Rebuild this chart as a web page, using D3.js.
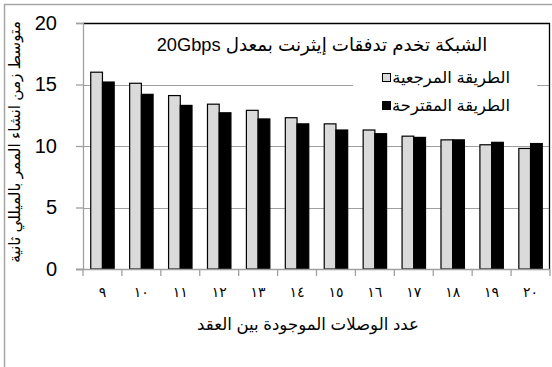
<!DOCTYPE html>
<html>
<head>
<meta charset="utf-8">
<script src="https://cdn.jsdelivr.net/npm/d3@7/dist/d3.min.js"></script>
<style>
  html, body { margin: 0; padding: 0; background: #fff; }
  svg { display: block; }
  text { font-family: "Liberation Sans", "DejaVu Sans", sans-serif; }
</style>
</head>
<body>
<svg id="chart" width="552" height="367"></svg>
<script>
// Number of links between nodes (Arabic-Indic digits as drawn on the axis)
const categories = ["٩", "١٠", "١١", "١٢", "١٣", "١٤", "١٥", "١٦", "١٧", "١٨", "١٩", "٢٠"];
// Mean path set-up time (ms): reference method vs. proposed method
const referenceValues = [16.0, 15.1, 14.1, 13.4, 12.9, 12.3, 11.8, 11.3, 10.8, 10.5, 10.1, 9.8];
const proposedValues  = [15.2, 14.2, 13.3, 12.7, 12.2, 11.8, 11.3, 11.0, 10.7, 10.5, 10.3, 10.2];
const yTicks = [0, 5, 10, 15, 20];
const seriesNames = ["الطريقة المرجعية", "الطريقة المقترحة"];
const seriesColors = ["#dadada", "#000000"];
const chartTitle = "الشبكة تخدم تدفقات إيثرنت بمعدل 20Gbps";
const xTitle = "عدد الوصلات الموجودة بين العقد";
const yTitle = "متوسط زمن انشاء الممر بالميللي ثانية";

const svg = d3.select("#chart");
const plot = { left: 83, right: 550, top: 23, bottom: 269 };

// Outer chart frame (extends past the visible window on the right and bottom)
svg.append("rect")
  .attr("x", 4.5).attr("y", 4.5)
  .attr("width", 600).attr("height", 400)
  .attr("fill", "none").attr("stroke", "#a6a6a6").attr("stroke-width", 1.5);

const x = d3.scaleBand().domain(categories).range([plot.left, plot.right]).padding(0);
const xInner = d3.scaleBand().domain([0, 1]).range([0, x.bandwidth()]).paddingInner(0).paddingOuter(0.66);
const y = d3.scaleLinear().domain([0, 20]).range([plot.bottom, plot.top]);

// Horizontal gridlines
svg.append("g").selectAll("line")
  .data(yTicks.filter(v => v > 0 && v < 20))
  .join("line")
  .attr("x1", plot.left).attr("x2", plot.right)
  .attr("y1", d => Math.round(y(d)) + 0.5).attr("y2", d => Math.round(y(d)) + 0.5)
  .attr("stroke", "#a0a0a0").attr("stroke-width", 1.2);

// Plot area frame: top and right edges
svg.append("path")
  .attr("d", `M${plot.left},${plot.top + 0.5}H${plot.right - 0.5}V${plot.bottom}`)
  .attr("fill", "none").attr("stroke", "#000").attr("stroke-width", 1.3);

// Bars
const rows = categories.map((c, i) => ({ c, vals: [referenceValues[i], proposedValues[i]] }));
const groups = svg.append("g").selectAll("g")
  .data(rows).join("g")
  .attr("transform", d => `translate(${x(d.c)},0)`);
groups.selectAll("rect")
  .data(d => d.vals.map((v, k) => ({ v, k })))
  .join("rect")
  .attr("x", d => xInner(d.k))
  .attr("width", xInner.bandwidth())
  .attr("y", d => y(d.v))
  .attr("height", d => y(0) - y(d.v))
  .attr("fill", d => seriesColors[d.k])
  .attr("stroke", "#000").attr("stroke-width", 1.2);

// Y axis
const yAxis = svg.append("g")
  .attr("transform", `translate(${plot.left},0)`)
  .call(d3.axisLeft(y).tickValues(yTicks).tickSize(7).tickPadding(19));
yAxis.select(".domain").attr("stroke", "#a0a0a0").attr("stroke-width", 1.3);
yAxis.selectAll(".tick line").attr("stroke", "#a0a0a0").attr("stroke-width", 1.3);
yAxis.selectAll(".tick text")
  .attr("font-family", "Lato, 'Open Sans', sans-serif")
  .attr("font-size", 20).attr("fill", "#000");

// X axis line, boundary ticks and labels
const xAxis = svg.append("g");
xAxis.append("line")
  .attr("x1", plot.left - 7).attr("x2", plot.right)
  .attr("y1", plot.bottom + 0.5).attr("y2", plot.bottom + 0.5)
  .attr("stroke", "#a0a0a0").attr("stroke-width", 1.3);
const boundaries = categories.map(c => x(c)).concat([x.range()[1]]);
xAxis.selectAll("line.tick")
  .data(boundaries).join("line").attr("class", "tick")
  .attr("x1", d => d).attr("x2", d => d)
  .attr("y1", plot.bottom).attr("y2", plot.bottom + 7)
  .attr("stroke", "#a0a0a0").attr("stroke-width", 1.3);
xAxis.selectAll("text")
  .data(categories).join("text")
  .attr("x", d => x(d) + x.bandwidth() / 2)
  .attr("y", 297)
  .attr("text-anchor", "middle")
  .attr("font-size", 14)
  .text(d => d);

// Fit a text element to a given width by adjusting its font size
function fitWidth(sel, width) {
  const w = sel.node().getComputedTextLength();
  const fs = parseFloat(sel.attr("font-size"));
  sel.attr("font-size", fs * width / w);
}

// Axis titles
const xt = svg.append("text")
  .attr("x", 308).attr("y", 330)
  .attr("text-anchor", "middle").attr("font-size", 15)
  .text(xTitle);
fitWidth(xt, 222);

const yt = svg.append("text")
  .attr("transform", "translate(20,142) rotate(-90)")
  .attr("text-anchor", "middle").attr("font-size", 15)
  .text(yTitle);
fitWidth(yt, 242);

// Chart title (right-to-left paragraph so the Latin run sits at the left end)
const tt = svg.append("text")
  .attr("x", 322).attr("y", 51)
  .attr("direction", "rtl")
  .attr("text-anchor", "middle").attr("font-size", 16)
  .text(chartTitle);
fitWidth(tt, 331);

// Legend
const legend = svg.append("g");
legend.append("rect")
  .attr("x", 353).attr("y", 62).attr("width", 184).attr("height", 54)
  .attr("fill", "#fff");
const items = legend.selectAll("g.item")
  .data(seriesNames).join("g").attr("class", "item")
  .attr("transform", (d, i) => `translate(0,${78 + i * 28})`);
items.append("rect")
  .attr("x", 382.5).attr("y", -4.5).attr("width", 8).attr("height", 8)
  .attr("fill", (d, i) => seriesColors[i]).attr("stroke", "#000").attr("stroke-width", 1);
items.append("text")
  .attr("x", 510).attr("y", 5)
  .attr("text-anchor", "end").attr("font-size", 15)
  .text(d => d)
  .each(function () { fitWidth(d3.select(this), 118); });
</script>
</body>
</html>
